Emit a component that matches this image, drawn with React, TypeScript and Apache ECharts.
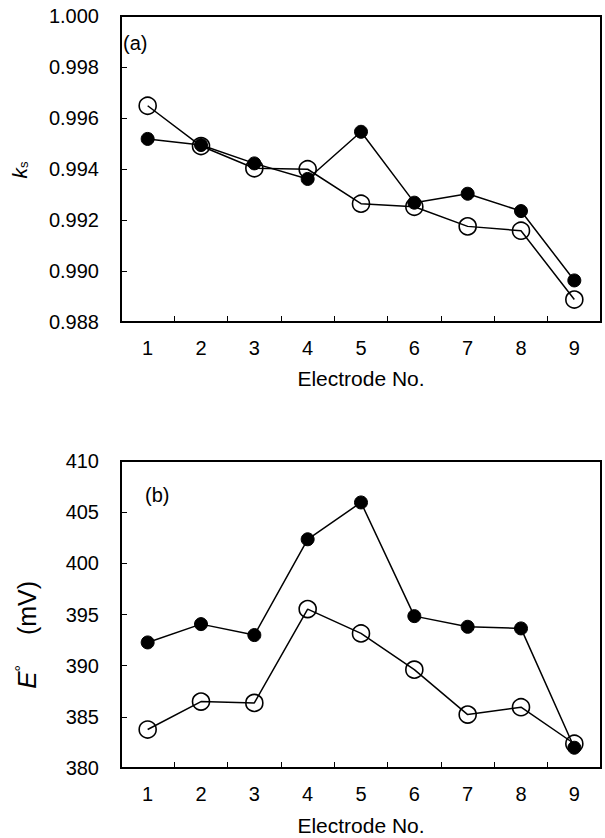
import React, { useEffect, useRef } from "react";
import * as echarts from "echarts";

const categories = ["1", "2", "3", "4", "5", "6", "7", "8", "9"];

const ksFilled = [0.99518, 0.99494, 0.99422, 0.99361, 0.99546, 0.99268, 0.99303, 0.99235, 0.98963];
const ksOpen = [0.99648, 0.9949, 0.99403, 0.99399, 0.99264, 0.99252, 0.99175, 0.99158, 0.98888];

const eFilled = [392.27, 394.06, 392.99, 402.35, 405.95, 394.84, 393.8, 393.64, 381.98];
const eOpen = [383.76, 386.49, 386.36, 395.53, 393.15, 389.61, 385.22, 385.94, 382.37];

const FONT = "'Liberation Sans', Arial, sans-serif";

export default function App() {
  const ref = useRef<HTMLDivElement>(null);

  useEffect(() => {
    if (!ref.current) return;
    const chart = echarts.init(ref.current, null, { renderer: "svg" });

    const axisLabel = { color: "#000", fontSize: 20, fontFamily: FONT };
    const mkX = (gridIndex: number, gap: number) => ({
      type: "category",
      gridIndex,
      data: categories,
      boundaryGap: true,
      axisLine: { lineStyle: { color: "#000", width: 2 } },
      axisTick: { show: true, inside: true, length: 6, alignWithLabel: false, lineStyle: { color: "#000", width: 1 } },
      axisLabel: { ...axisLabel, margin: 16 },
      name: "Electrode No.",
      nameLocation: "middle",
      nameGap: gap,
      nameTextStyle: { color: "#000", fontSize: 21, fontFamily: FONT },
      splitLine: { show: false },
    });
    const mkY = (gridIndex: number, min: number, max: number, interval: number, dec: number) => ({
      type: "value",
      gridIndex,
      min,
      max,
      interval,
      axisLine: { show: true, lineStyle: { color: "#000", width: 2 } },
      axisTick: { show: true, inside: true, length: 6, lineStyle: { color: "#000", width: 1 } },
      axisLabel: { ...axisLabel, margin: 22, formatter: (v: number) => v.toFixed(dec) },
      splitLine: { show: false },
    });

    const lineSeries = (data: number[], idx: number, filled: boolean) => ({
      type: "line",
      xAxisIndex: idx,
      yAxisIndex: idx,
      data,
      symbol: "circle",
      symbolSize: filled ? 13 : 17,
      showSymbol: true,
      lineStyle: { color: "#000", width: 1.5 },
      itemStyle: filled
        ? { color: "#000", borderColor: "#000", borderWidth: 1 }
        : { color: "rgba(255,255,255,0)", borderColor: "#000", borderWidth: 1.6 },
      z: filled ? 3 : 2,
    });

    chart.setOption({
      animation: false,
      backgroundColor: "#fff",
      grid: [
        { left: 121, top: 16, width: 480, height: 306, show: true, borderColor: "#000", borderWidth: 2, backgroundColor: "transparent" },
        { left: 121, top: 461, width: 480, height: 307, show: true, borderColor: "#000", borderWidth: 2, backgroundColor: "transparent" },
      ],
      xAxis: [mkX(0, 46), mkX(1, 47)],
      yAxis: [mkY(0, 0.988, 1.0, 0.002, 3), mkY(1, 380, 410, 5, 0)],
      series: [
        lineSeries(ksOpen, 0, false),
        lineSeries(ksFilled, 0, true),
        lineSeries(eOpen, 1, false),
        lineSeries(eFilled, 1, true),
      ],
      graphic: [
        {
          type: "text",
          left: 123,
          top: 33,
          style: { text: "(a)", fill: "#000", fontSize: 20, fontFamily: FONT },
        },
        {
          type: "text",
          left: 145,
          top: 485,
          style: { text: "(b)", fill: "#000", fontSize: 20, fontFamily: FONT },
        },
        {
          type: "text",
          x: 19,
          y: 170,
          rotation: Math.PI / 2,
          style: {
            text: "{k|k}{s|s}",
            align: "center",
            verticalAlign: "middle",
            fill: "#000",
            rich: {
              k: { fontSize: 21, fontStyle: "italic", fontFamily: FONT, fill: "#000" },
              s: { fontSize: 13, fontFamily: FONT, fill: "#000", padding: [9, 0, 0, 0] },
            },
          },
        },
        {
          type: "text",
          x: 27,
          y: 608,
          rotation: Math.PI / 2,
          style: {
            text: "(mV)",
            align: "center",
            verticalAlign: "middle",
            fill: "#000",
            fontSize: 25,
            fontFamily: FONT,
          },
        },
        {
          type: "text",
          x: 27,
          y: 677,
          rotation: Math.PI / 2,
          style: {
            text: "{e|E}{d|°}",
            align: "center",
            verticalAlign: "middle",
            fill: "#000",
            rich: {
              e: { fontSize: 26, fontStyle: "italic", fontFamily: FONT, fill: "#000" },
              d: { fontSize: 16, fontFamily: FONT, fill: "#000", padding: [0, 0, 12, 0] },
            },
          },
        },
      ],
    });

    return () => chart.dispose();
  }, []);

  return <div ref={ref} style={{ width: 605, height: 838, position: "absolute", left: 0, top: 0 }} />;
}
